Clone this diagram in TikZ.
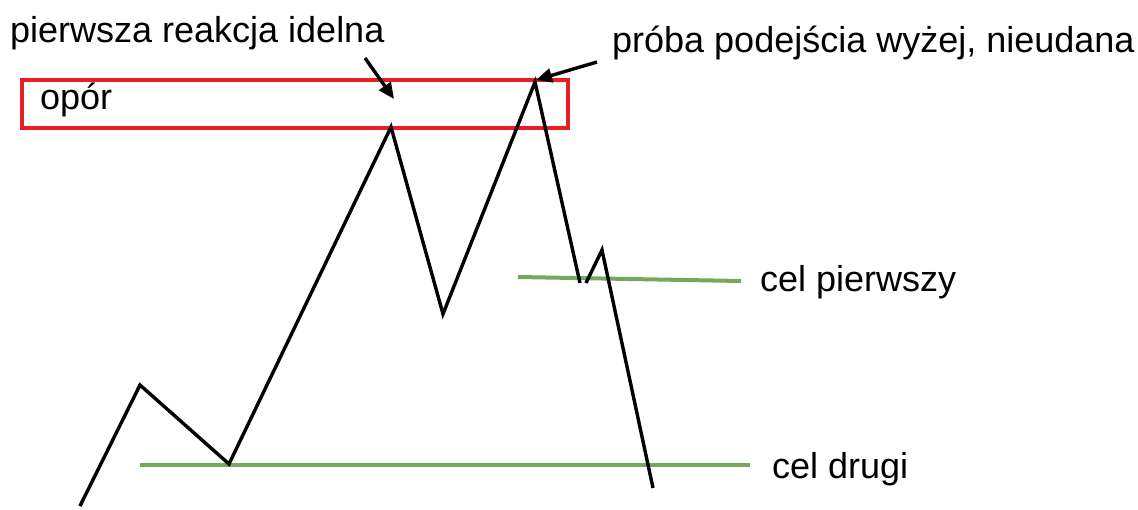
\documentclass[tikz,border=0pt]{standalone}
\usepackage{fontspec}
\setmainfont{Liberation Sans}
\usepackage{xcolor}
\definecolor{res}{HTML}{EC1C24}
\definecolor{tgt}{HTML}{74A85C}
\usetikzlibrary{arrows.meta,positioning,calc}
\tikzset{
  >={Triangle[length=16pt,width=14pt]},
  lab/.style={font=\fontsize{36}{43}\selectfont,inner sep=0pt,anchor=base west},
  price/.style={draw=black,line width=3.4pt,line join=miter},
  level/.style={draw=tgt,line width=4pt},
  zone/.style={draw=res,line width=3.4pt},
  arr/.style={->,draw=black,line width=3.4pt},
}
\begin{document}
\begin{tikzpicture}[x=1pt,y=-1pt]
\useasboundingbox (0,0) rectangle (1138,509);
% resistance zone
\node[zone,minimum width=546pt,minimum height=48pt,inner sep=0pt] (zone) at (295,104) {};
\node[lab] (opor) at (40,109) {opór};
% target levels
\coordinate (c1a) at (518,277);
\coordinate (c1b) at (741,281);
\coordinate (c2a) at (140,465);
\coordinate (c2b) at (750,465);
\draw[level] (c1a) -- (c1b);
\draw[level] (c2a) -- (c2b);
\node[lab] (celone) at (760,291) {cel pierwszy};
\node[lab] (celtwo) at (772,478) {cel drugi};
% price path
\coordinate (p0) at (80,506);
\coordinate (p1) at (140,385);
\coordinate (p2) at (229,464);
\coordinate (p3) at (391,127);
\coordinate (p4) at (443,314);
\coordinate (p5) at (535,82);
\coordinate (p6) at (580,283);
\coordinate (p7) at (586,283);
\coordinate (p8) at (602,250);
\coordinate (p9) at (653,488);
\draw[price] (p0) -- (p1) -- (p2) -- (p3) -- (p4) -- (p5) -- (p6);
\draw[price] (p7) -- (p8) -- (p9);
% comments
\node[lab] (txtone) at (10,42) {pierwsza reakcja idelna};
\node[lab] (txttwo) at (612,52) {próba podejścia wyżej, nieudana};
\coordinate (a1) at (365,58);
\coordinate (a1t) at (394,99);
\coordinate (a2) at (597,62);
\coordinate (a2t) at (536,80);
\draw[arr] (a1) -- (a1t);
\draw[arr] (a2) -- (a2t);
\end{tikzpicture}
\end{document}
